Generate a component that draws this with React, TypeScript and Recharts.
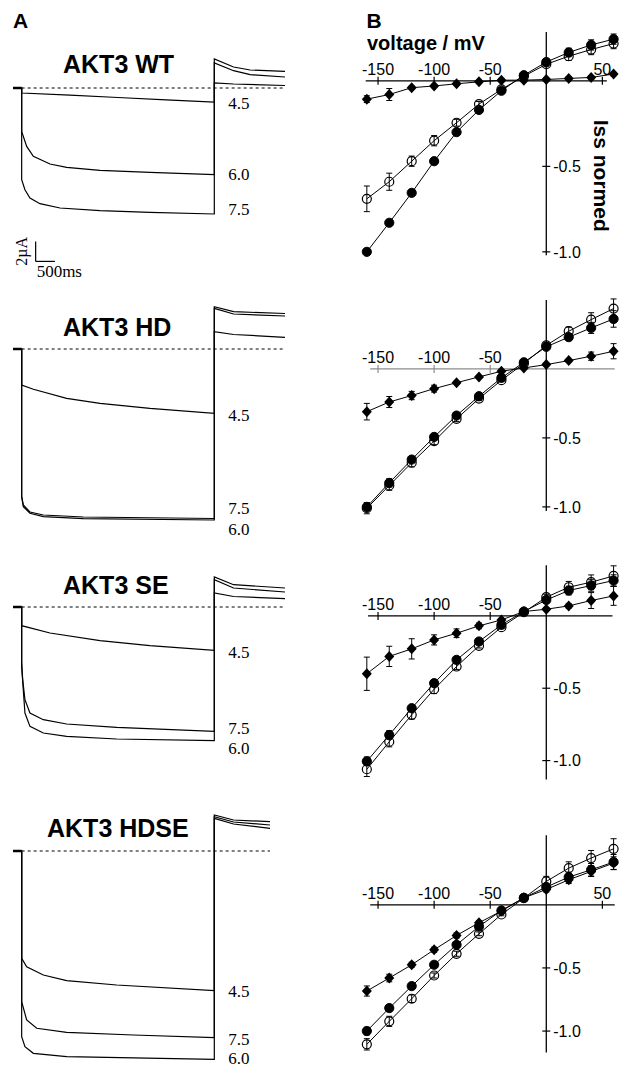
import React from "react"
import {
  LineChart,
  Line,
  XAxis,
  YAxis,
  ReferenceLine,
  ReferenceDot,
  ErrorBar,
} from "recharts"

const SANS = '"Liberation Sans", Arial, Helvetica, sans-serif'
const SERIF = '"Liberation Serif", "Times New Roman", serif'

// ---------- panel A: current traces, [time (ms), current (µA)] ----------
type Pt = [number, number]

const pulseEnd = 5000
const pHLabels = ["4.5", "6.0", "7.5"]

const wt45: Pt[] = [[-225, 0], [0, 0], [0, -0.5], [1250, -0.72], [2500, -0.95], [3750, -1.18], [5000, -1.4], [5000, 0.5], [5500, 0.4], [6835, 0.25]]
const wt60: Pt[] = [[-225, 0], [0, 0], [0, -4.34], [130, -5.84], [303, -6.84], [735, -7.6], [1167, -7.94], [2033, -8.24], [3330, -8.44], [5000, -8.67], [5000, 2.5], [5500, 1.73], [5930, 1.33], [6835, 1.1]]
const wt75: Pt[] = [[-225, 0], [0, 0], [0, -9.17], [85, -10.17], [215, -11.0], [475, -11.57], [995, -12.0], [2033, -12.27], [3330, -12.44], [5000, -12.6], [5000, 2.9], [5500, 2.1], [5930, 1.8], [6835, 1.66]]

const hd45: Pt[] = [[-225, 0], [0, 0], [0, -3.6], [303, -4.03], [1167, -4.93], [2033, -5.43], [3330, -5.93], [5000, -6.43], [5000, 1.73], [5500, 1.45], [6835, 1.17]]
const hd60: Pt[] = [[-225, 0], [0, 0], [0, -14.77], [43, -15.77], [215, -16.43], [562, -16.77], [1600, -16.97], [5000, -17.1], [5000, 4.23], [5500, 3.73], [6835, 3.55]]
const hd75: Pt[] = [[-225, 0], [0, 0], [0, -14.77], [43, -15.6], [215, -16.3], [562, -16.6], [1600, -16.8], [5000, -16.95], [5000, 4.07], [5500, 3.5], [6835, 3.3]]

const se45: Pt[] = [[-225, 0], [0, 0], [0, -1.87], [735, -2.6], [2033, -3.37], [3330, -3.87], [5000, -4.33], [5000, 1.4], [5500, 1.05], [6835, 0.83]]
const se60: Pt[] = [[-225, 0], [0, 0], [0, -6.0], [85, -10.6], [215, -11.94], [562, -12.6], [1167, -12.94], [2466, -13.2], [5000, -13.37], [5000, 3.0], [5500, 2.23], [6835, 1.9]]
const se75: Pt[] = [[-225, 0], [0, 0], [0, -5.5], [27, -7.27], [85, -9.27], [215, -10.6], [562, -11.27], [1167, -11.7], [2466, -12.04], [5000, -12.44], [5000, 2.73], [5500, 1.9], [6835, 1.5]]

const hdse45: Pt[] = [[-225, 0], [0, 0], [0, -10.73], [130, -11.57], [562, -12.4], [1167, -12.97], [2466, -13.4], [5000, -13.97], [5000, 3.27], [5500, 2.7], [6446, 2.27]]
const hdse60: Pt[] = [[-225, 0], [0, 0], [0, -18.57], [85, -19.57], [303, -20.23], [1167, -20.57], [5000, -20.83], [5000, 3.6], [5500, 3.1], [6446, 2.93]]
const hdse75: Pt[] = [[-225, 0], [0, 0], [0, -15.07], [130, -16.9], [390, -17.73], [1167, -18.13], [2900, -18.4], [5000, -18.67], [5000, 3.43], [5500, 2.9], [6446, 2.6]]

const scaleBarTime = 500
const scaleBarCurrent = 2

// ---------- panel B: steady-state current vs voltage ----------
const voltages = [-160, -140, -120, -100, -80, -60, -40, -20, 0, 20, 40, 60]

const wtFilled = [-1.0, -0.83, -0.655, -0.47, -0.3, -0.17, -0.058, 0.033, 0.11, 0.166, 0.21, 0.244]
const wtFilledErr = [0.01, 0.01, 0.01, 0.01, 0.01, 0.01, 0.01, 0.01, 0.02, 0.025, 0.03, 0.03]
const wtOpen = [-0.69, -0.59, -0.47, -0.35, -0.245, -0.136, -0.05, 0.027, 0.097, 0.144, 0.183, 0.218]
const wtOpenErr = [0.075, 0.05, 0.03, 0.03, 0.02, 0.015, 0.01, 0.01, 0.015, 0.025, 0.03, 0.03]
const wtDiamond = [-0.107, -0.08, -0.04, -0.03, -0.017, -0.006, 0.004, 0.004, 0.008, 0.014, 0.02, 0.04]
const wtDiamondErr = [0.02, 0.035, 0.01, 0.01, 0.01, 0.01, 0.01, 0.01, 0.01, 0.01, 0.01, 0.01]

const hdFilled = [-1.0, -0.826, -0.657, -0.493, -0.338, -0.198, -0.065, 0.048, 0.16, 0.23, 0.297, 0.362]
const hdFilledErr = [0.03, 0.03, 0.02, 0.02, 0.015, 0.01, 0.01, 0.01, 0.015, 0.02, 0.04, 0.06]
const hdOpen = [-1.01, -0.845, -0.68, -0.524, -0.362, -0.215, -0.082, 0.039, 0.17, 0.273, 0.357, 0.437]
const hdOpenErr = [0.04, 0.035, 0.03, 0.025, 0.02, 0.015, 0.01, 0.01, 0.02, 0.03, 0.05, 0.07]
const hdDiamond = [-0.31, -0.24, -0.193, -0.143, -0.1, -0.058, -0.017, 0.007, 0.031, 0.06, 0.092, 0.128]
const hdDiamondErr = [0.06, 0.04, 0.03, 0.025, 0.01, 0.01, 0.01, 0.01, 0.01, 0.01, 0.03, 0.055]

const seFilled = [-1.005, -0.823, -0.638, -0.465, -0.304, -0.177, -0.062, 0.03, 0.11, 0.175, 0.21, 0.244]
const seFilledErr = [0.03, 0.03, 0.02, 0.02, 0.015, 0.01, 0.01, 0.01, 0.02, 0.03, 0.04, 0.04]
const seOpen = [-1.06, -0.87, -0.684, -0.507, -0.35, -0.207, -0.078, 0.025, 0.129, 0.198, 0.233, 0.276]
const seOpenErr = [0.05, 0.035, 0.03, 0.03, 0.02, 0.015, 0.01, 0.01, 0.02, 0.04, 0.05, 0.07]
const seDiamond = [-0.4, -0.28, -0.228, -0.166, -0.12, -0.069, -0.028, 0.03, 0.046, 0.069, 0.106, 0.138]
const seDiamondErr = [0.115, 0.07, 0.07, 0.035, 0.03, 0.02, 0.01, 0.01, 0.01, 0.015, 0.055, 0.065]

const hdseFilled = [-1.0, -0.818, -0.644, -0.475, -0.317, -0.172, -0.045, 0.055, 0.14, 0.219, 0.277, 0.338]
const hdseFilledErr = [0.03, 0.02, 0.02, 0.02, 0.02, 0.015, 0.01, 0.01, 0.03, 0.04, 0.05, 0.06]
const hdseOpen = [-1.105, -0.923, -0.744, -0.56, -0.388, -0.23, -0.077, 0.053, 0.185, 0.29, 0.37, 0.443]
const hdseOpenErr = [0.045, 0.04, 0.03, 0.02, 0.02, 0.015, 0.01, 0.01, 0.04, 0.05, 0.06, 0.08]
const hdseDiamond = [-0.683, -0.58, -0.475, -0.356, -0.243, -0.142, -0.05, 0.055, 0.121, 0.198, 0.264, 0.33]
const hdseDiamondErr = [0.04, 0.03, 0.02, 0.02, 0.02, 0.015, 0.01, 0.01, 0.02, 0.03, 0.04, 0.05]

const yTicks = [-0.5, -1.0]

// ---------- layout ----------
const timeDomain: [number, number] = [-225, 6835]
const currentDomain: [number, number] = [-22, 5]
const pxPerUA = 10
const voltDomain: [number, number] = [-175, 67.5]
const labelSize = 17

const aPanels = [
  { title: "AKT3 WT", titleX: 63, titleY: 73, zeroY: 88.3, traces: [wt45, wt60, wt75], labelDy: [1, 0, -5], tailEnd: 6835, scaleBar: true },
  { title: "AKT3 HD", titleX: 63, titleY: 335.7, zeroY: 349, traces: [hd45, hd60, hd75], labelDy: [2, 9, -10], tailEnd: 6835, scaleBar: false },
  { title: "AKT3 SE", titleX: 63, titleY: 594, zeroY: 607.3, traces: [se45, se60, se75], labelDy: [2, 7.5, -3], tailEnd: 6835, scaleBar: false },
  { title: "AKT3 HDSE", titleX: 47, titleY: 837.3, zeroY: 851, traces: [hdse45, hdse60, hdse75], labelDy: [1, -1, 1.5], tailEnd: 6446, scaleBar: false },
]

const bPanels = [
  { filled: wtFilled, filledErr: wtFilledErr, open: wtOpen, openErr: wtOpenErr, diamond: wtDiamond, diamondErr: wtDiamondErr,
    top: 20.6, pxPerUnit: 171, yDomain: [-1.1, 0.35], axisColor: "#000", xSpan: [-161, 54], ySpan: [0.285, -1.02], xTicks: [-150, -100, -50, 50] },
  { filled: hdFilled, filledErr: hdFilledErr, open: hdOpen, openErr: hdOpenErr, diamond: hdDiamond, diamondErr: hdDiamondErr,
    top: 293.4, pxPerUnit: 138, yDomain: [-1.1, 0.55], axisColor: "#8c8c8c", xSpan: [-157, 61], ySpan: [0.5, -1.03], xTicks: [-150, -100, -50] },
  { filled: seFilled, filledErr: seFilledErr, open: seOpen, openErr: seOpenErr, diamond: seDiamond, diamondErr: seDiamondErr,
    top: 558.1, pxPerUnit: 144.7, yDomain: [-1.2, 0.4], axisColor: "#000", xSpan: [-159, 59], ySpan: [0.35, -1.13], xTicks: [-150, -100, -50] },
  { filled: hdseFilled, filledErr: hdseFilledErr, open: hdseOpen, openErr: hdseOpenErr, diamond: hdseDiamond, diamondErr: hdseDiamondErr,
    top: 828.5, pxPerUnit: 126.3, yDomain: [-1.25, 0.6], axisColor: "#000", xSpan: [-157, 61], ySpan: [0.55, -1.17], xTicks: [-150, -100, -50, 50] },
]

const Diamond = (props: any) => {
  const { cx, cy, index } = props
  if (cx == null || cy == null) return null
  return (
    <path
      key={`dm-${index}`}
      d={`M${cx},${cy - 5.5} L${cx + 5},${cy} L${cx},${cy + 5.5} L${cx - 5},${cy} Z`}
      fill="#000"
    />
  )
}

function TracePanel({ cfg }: { cfg: (typeof aPanels)[number] }) {
  const height = (currentDomain[1] - currentDomain[0]) * pxPerUA
  const top = cfg.zeroY - currentDomain[1] * pxPerUA
  const barT = 363
  const barI = -17.34
  return (
    <div style={{ position: "absolute", left: 13, top, width: 272, height }}>
      <LineChart width={272} height={height} margin={{ top: 0, right: 0, bottom: 0, left: 0 }}>
        <XAxis type="number" dataKey="t" domain={timeDomain} hide allowDataOverflow />
        <YAxis type="number" dataKey="i" domain={currentDomain} hide allowDataOverflow />
        <ReferenceLine segment={[{ x: timeDomain[0], y: 0 }, { x: 0, y: 0 }]} stroke="#000" strokeWidth={2.5} />
        <ReferenceLine
          segment={[{ x: 0, y: 0 }, { x: cfg.tailEnd, y: 0 }]}
          stroke="#000"
          strokeWidth={1}
          strokeDasharray="3 3"
        />
        {cfg.traces.map((tr, k) => (
          <Line
            key={k}
            data={tr.map(([t, i]) => ({ t, i }))}
            dataKey="i"
            type="linear"
            stroke="#000"
            strokeWidth={1.2}
            dot={false}
            activeDot={false}
            isAnimationActive={false}
          />
        ))}
        {cfg.traces.map((tr, k) => {
          const end = tr.find((p) => p[0] === pulseEnd)![1]
          return (
            <ReferenceDot
              key={`lab-${k}`}
              x={pulseEnd}
              y={end}
              r={0}
              shape={(p: any) => (
                <text
                  x={p.cx + 14}
                  y={p.cy + cfg.labelDy[k] + labelSize * 0.34}
                  fontFamily={SERIF}
                  fontSize={labelSize}
                  fill="#000"
                >
                  {pHLabels[k]}
                </text>
              )}
            />
          )
        })}
        {cfg.scaleBar && (
          <ReferenceLine
            segment={[{ x: barT, y: barI }, { x: barT, y: barI + scaleBarCurrent }]}
            stroke="#000"
            strokeWidth={1.2}
          />
        )}
        {cfg.scaleBar && (
          <ReferenceLine
            segment={[{ x: barT, y: barI }, { x: barT + scaleBarTime, y: barI }]}
            stroke="#000"
            strokeWidth={1.2}
          />
        )}
        {cfg.scaleBar && (
          <ReferenceDot
            x={barT}
            y={barI}
            r={0}
            shape={(p: any) => (
              <g>
                <text
                  x={p.cx - 8.5}
                  y={p.cy - 10}
                  transform={`rotate(-90 ${p.cx - 8.5} ${p.cy - 10})`}
                  textAnchor="middle"
                  fontFamily={SERIF}
                  fontSize={16}
                  fill="#000"
                >
                  2µA
                </text>
                <text x={p.cx + 1} y={p.cy + 15.7} fontFamily={SERIF} fontSize={17} fill="#000">
                  500ms
                </text>
              </g>
            )}
          />
        )}
      </LineChart>
    </div>
  )
}

function IVPanel({ cfg }: { cfg: (typeof bPanels)[number] }) {
  const rows = voltages.map((v, k) => ({
    v,
    filled: cfg.filled[k],
    filledErr: cfg.filledErr[k],
    open: cfg.open[k],
    openErr: cfg.openErr[k],
    diamond: cfg.diamond[k],
    diamondErr: cfg.diamondErr[k],
  }))
  const height = (cfg.yDomain[1] - cfg.yDomain[0]) * cfg.pxPerUnit
  return (
    <div style={{ position: "absolute", left: 350, top: cfg.top, width: 272, height }}>
      <LineChart width={272} height={height} data={rows} margin={{ top: 0, right: 0, bottom: 0, left: 0 }}>
        <XAxis type="number" dataKey="v" domain={voltDomain} hide allowDataOverflow />
        <YAxis type="number" domain={cfg.yDomain} hide allowDataOverflow />
        <ReferenceLine
          segment={[{ x: cfg.xSpan[0], y: 0 }, { x: cfg.xSpan[1], y: 0 }]}
          stroke={cfg.axisColor}
          strokeWidth={1.3}
        />
        <ReferenceLine
          segment={[{ x: 0, y: cfg.ySpan[0] }, { x: 0, y: cfg.ySpan[1] }]}
          stroke="#000"
          strokeWidth={1.3}
        />
        {cfg.xTicks.map((v) => (
          <ReferenceDot
            key={`xt-${v}`}
            x={v}
            y={0}
            r={0}
            shape={(p: any) => (
              <g>
                <line x1={p.cx} x2={p.cx} y1={p.cy - 4} y2={p.cy + 4} stroke={cfg.axisColor} strokeWidth={1.2} />
                <text x={p.cx} y={p.cy - 6} textAnchor="middle" fontFamily={SANS} fontSize={16} fill="#000">
                  {String(v)}
                </text>
              </g>
            )}
          />
        ))}
        {yTicks.map((t) => (
          <ReferenceDot
            key={`yt-${t}`}
            x={0}
            y={t}
            r={0}
            shape={(p: any) => (
              <g>
                <line x1={p.cx - 4} x2={p.cx + 4} y1={p.cy} y2={p.cy} stroke="#000" strokeWidth={1.2} />
                <text x={p.cx + 7} y={p.cy + 5.7} fontFamily={SANS} fontSize={16} fill="#000">
                  {t.toFixed(1)}
                </text>
              </g>
            )}
          />
        ))}
        <Line
          dataKey="open"
          type="linear"
          stroke="#000"
          strokeWidth={1}
          dot={{ r: 4.5, fill: "none", stroke: "#000", strokeWidth: 1.2 }}
          activeDot={false}
          isAnimationActive={false}
        >
          <ErrorBar dataKey="openErr" direction="y" width={3} stroke="#000" strokeWidth={1} />
        </Line>
        <Line
          dataKey="filled"
          type="linear"
          stroke="#000"
          strokeWidth={1}
          dot={{ r: 4.6, fill: "#000", stroke: "#000", strokeWidth: 1 }}
          activeDot={false}
          isAnimationActive={false}
        >
          <ErrorBar dataKey="filledErr" direction="y" width={3} stroke="#000" strokeWidth={1} />
        </Line>
        <Line
          dataKey="diamond"
          type="linear"
          stroke="#000"
          strokeWidth={1}
          dot={Diamond}
          activeDot={false}
          isAnimationActive={false}
        >
          <ErrorBar dataKey="diamondErr" direction="y" width={3} stroke="#000" strokeWidth={1} />
        </Line>
      </LineChart>
    </div>
  )
}

export default function App() {
  return (
    <div
      style={{
        position: "absolute",
        left: 0,
        top: 0,
        width: 624,
        height: 1070,
        background: "#fff",
        overflow: "hidden",
      }}
    >
      {aPanels.map((cfg) => (
        <TracePanel key={cfg.title} cfg={cfg} />
      ))}
      {bPanels.map((cfg, k) => (
        <IVPanel key={k} cfg={cfg} />
      ))}
      <svg
        width={624}
        height={1070}
        style={{ position: "absolute", left: 0, top: 0, pointerEvents: "none" }}
      >
        <text x={13} y={28} fontFamily={SANS} fontWeight="bold" fontSize={21} fill="#000">A</text>
        <text x={366.5} y={28.3} fontFamily={SANS} fontWeight="bold" fontSize={21} fill="#000">B</text>
        {aPanels.map((cfg) => (
          <text
            key={cfg.title}
            x={cfg.titleX}
            y={cfg.titleY}
            fontFamily={SANS}
            fontWeight="bold"
            fontSize={25}
            fill="#000"
          >
            {cfg.title}
          </text>
        ))}
        <text x={367} y={50} fontFamily={SANS} fontWeight="bold" fontSize={20} fill="#000">
          voltage / mV
        </text>
        <text
          x={594}
          y={175.8}
          transform="rotate(90 594 175.8)"
          textAnchor="middle"
          fontFamily={SANS}
          fontWeight="bold"
          fontSize={21}
          fill="#000"
        >
          Iss normed
        </text>
      </svg>
    </div>
  )
}
